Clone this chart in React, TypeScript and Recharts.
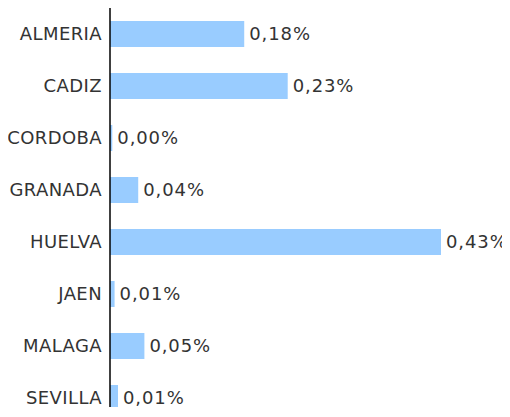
import React from "react";
import { BarChart, Bar, XAxis, YAxis, LabelList } from "recharts";

const categories = ["ALMERIA", "CADIZ", "CORDOBA", "GRANADA", "HUELVA", "JAEN", "MALAGA", "SEVILLA"];
const values = [0.176, 0.233, 0.003, 0.037, 0.434, 0.006, 0.0451, 0.0105];

const data = categories.map((name, i) => ({ name, value: values[i] }));

const fmt = (v: any) => Number(v).toFixed(2).replace(".", ",") + "%";

const font = "'DejaVu Sans', Verdana, sans-serif";

export default function App() {
  return (
    <div style={{ width: 502, height: 407, marginBottom: -8, overflow: "hidden" }}>
      <BarChart
        width={502}
        height={416}
        data={data}
        layout="vertical"
        margin={{ top: 0, right: 69, bottom: 0, left: 0 }}
        barSize={26}
      >
        <XAxis type="number" hide domain={[0, 0.434]} allowDataOverflow />
        <YAxis
          type="category"
          dataKey="name"
          width={102}
          tickLine={false}
          axisLine={{ stroke: "#000", strokeWidth: 1.5 }}
          tick={{ fill: "#333", fontSize: 18, fontFamily: font, letterSpacing: 0.4 }}
          interval={0}
        />
        <Bar dataKey="value" fill="#99ccff" isAnimationActive={false}>
          <LabelList
            dataKey="value"
            position="right"
            offset={5}
            formatter={fmt}
            style={{ fill: "#333", fontSize: 18, fontFamily: font, letterSpacing: 0.9 }}
          />
        </Bar>
      </BarChart>
    </div>
  );
}
